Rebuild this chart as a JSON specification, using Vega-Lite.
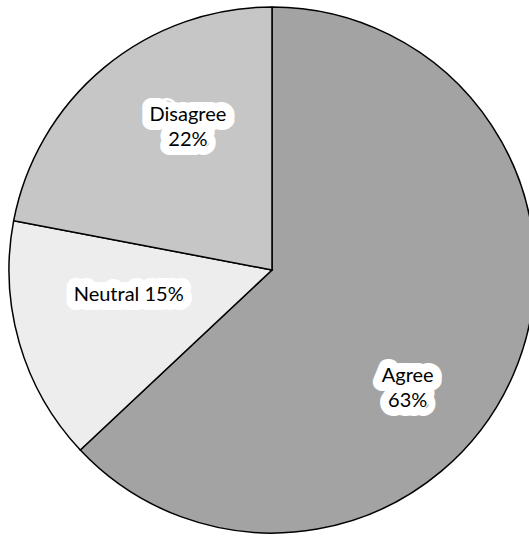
{
  "$schema": "https://vega.github.io/schema/vega-lite/v6.json",
  "width": 544,
  "height": 540,
  "padding": 0,
  "autosize": {"type": "none"},
  "background": "white",
  "config": {"view": {"stroke": null}},
  "data": {
    "values": [
      {"category": "Agree", "value": 63, "ord": 1, "label": "Agree\n63%"},
      {"category": "Neutral", "value": 15, "ord": 2, "label": "Neutral 15%"},
      {"category": "Disagree", "value": 22, "ord": 3, "label": "Disagree\n22%"}
    ]
  },
  "encoding": {
    "theta": {"field": "value", "type": "quantitative", "stack": true},
    "order": {"field": "ord", "type": "quantitative"}
  },
  "layer": [
    {
      "mark": {"type": "arc", "outerRadius": 263, "stroke": "black", "strokeWidth": 1.5},
      "encoding": {
        "color": {
          "field": "category", "type": "nominal", "legend": null,
          "scale": {"domain": ["Agree", "Neutral", "Disagree"], "range": ["#a3a3a3", "#ededed", "#c6c6c6"]}
        }
      }
    },
    {
      "mark": {"type": "text", "font": "Lato", "fontSize": 20, "lineBreak": "\n", "lineHeight": 25, "stroke": "white", "strokeWidth": 18, "strokeJoin": "round", "fill": "white", "thetaOffset": 0.302, "dy": -11},
      "encoding": {"radius": {"value": 179}, "text": {"condition": {"test": "datum.category === 'Agree'", "field": "label"}, "value": ""}}
    },
    {
      "mark": {"type": "text", "font": "Lato", "fontSize": 20, "lineBreak": "\n", "lineHeight": 25, "fill": "black", "thetaOffset": 0.302, "dy": -11},
      "encoding": {"radius": {"value": 179}, "text": {"condition": {"test": "datum.category === 'Agree'", "field": "label"}, "value": ""}}
    },
    {
      "mark": {"type": "text", "font": "Lato", "fontSize": 20, "lineBreak": "\n", "lineHeight": 25, "stroke": "white", "strokeWidth": 18, "strokeJoin": "round", "fill": "white", "thetaOffset": 0.091, "dy": -3},
      "encoding": {"radius": {"value": 146}, "text": {"condition": {"test": "datum.category === 'Neutral'", "field": "label"}, "value": ""}}
    },
    {
      "mark": {"type": "text", "font": "Lato", "fontSize": 20, "lineBreak": "\n", "lineHeight": 25, "fill": "black", "thetaOffset": 0.091, "dy": -3},
      "encoding": {"radius": {"value": 146}, "text": {"condition": {"test": "datum.category === 'Neutral'", "field": "label"}, "value": ""}}
    },
    {
      "mark": {"type": "text", "font": "Lato", "fontSize": 20, "lineBreak": "\n", "lineHeight": 25, "stroke": "white", "strokeWidth": 18, "strokeJoin": "round", "fill": "white", "thetaOffset": 0.16, "dy": -12},
      "encoding": {"radius": {"value": 166}, "text": {"condition": {"test": "datum.category === 'Disagree'", "field": "label"}, "value": ""}}
    },
    {
      "mark": {"type": "text", "font": "Lato", "fontSize": 20, "lineBreak": "\n", "lineHeight": 25, "fill": "black", "thetaOffset": 0.16, "dy": -12},
      "encoding": {"radius": {"value": 166}, "text": {"condition": {"test": "datum.category === 'Disagree'", "field": "label"}, "value": ""}}
    }
  ]
}
